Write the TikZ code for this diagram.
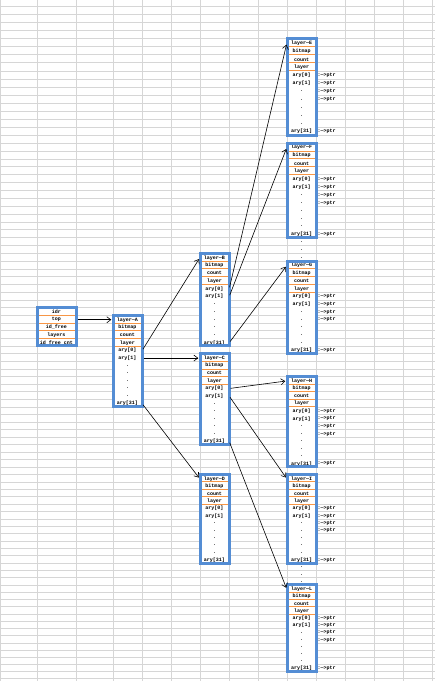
\documentclass[tikz,border=0pt]{standalone}
\usepackage{fontspec}
\usepackage{xcolor}
\usetikzlibrary{arrows.meta}
\newfontfamily\zellfont{Liberation Mono}
\definecolor{gitterGrau}{RGB}{214,214,214}
\definecolor{rahmenBlau}{RGB}{84,141,212}
\definecolor{trennOrange}{RGB}{247,150,70}

% y-Wert der Zeilengrenze k (Pixel von oben, Zeilen werden nach unten etwas flacher)
\newcommand{\zeileY}[1]{(6+8.158*(#1)-0.005846*(#1)*(#1))}

\tikzset{
  zelle/.style={inner sep=0pt, minimum width=29pt, minimum height=7pt, yshift=-0.6pt,
    font=\zellfont\bfseries\fontsize{5}{6}\selectfont},
  zeiger/.style={inner sep=0pt, anchor=west, yshift=-0.6pt,
    font=\zellfont\bfseries\fontsize{5}{6}\selectfont},
  pfeil/.style={black, line width=0.6pt, -{Straight Barb[length=4pt,width=6pt]},
    shorten <=1.5pt, shorten >=1.5pt},
}

% Kasten mit 12 Zeilen: #1 Name, #2 linke Kante, #3 erste Zeile, #4 Buchstabe
\newcommand{\layerKasten}[4]{%
  \fill[white] (#2,{\zeileY{#3}}) rectangle ({#2+29},{\zeileY{#3+12}});
  \foreach \j in {1,...,4}
    \draw[trennOrange, line width=0.8pt] (#2,{\zeileY{#3+\j}}) -- ({#2+29},{\zeileY{#3+\j}});
  \foreach \i/\txt in {0/layer—#4,1/bitmap,2/count,3/layer,4/ary[0],5/ary[1],
                       6/.,7/.,8/.,9/.,10/.,11/ary[31]} {
    \pgfmathsetmacro{\cy}{0.5*(\zeileY{#3+\i}+\zeileY{#3+\i+1})}
    \node[zelle] (#1-\i) at ({#2+14.5},\cy) {\txt};
  }
  \draw[rahmenBlau, line width=3pt] (#2,{\zeileY{#3}}) rectangle ({#2+29},{\zeileY{#3+12}});
}

% Zeiger-Spalte rechts neben einem Kasten: #1 Name, #2 linke Kante, #3 erste Zeile
\newcommand{\zeigerSpalte}[3]{%
  \foreach \i in {4,5,6,7,11} {
    \pgfmathsetmacro{\cy}{0.5*(\zeileY{#3+\i}+\zeileY{#3+\i+1})}
    \node[zeiger] (#1-p\i) at ({#2+1.5},\cy) {:—>ptr};
  }
}

\begin{document}
\begin{tikzpicture}[x=1pt, y=-1pt]
    \useasboundingbox (0,0) rectangle (435,681);

    % ==========================================
    % 1. Tabellen-Gitter (hellgrau)
    % ==========================================
    \foreach \k in {0,...,88}
        \draw[gitterGrau, line width=0.7pt] (0,{\zeileY{\k}}) -- (435,{\zeileY{\k}});
    \foreach \x in {0.7,37,76,113,142,171,200,229,258,287,316,345,374,403,432}
        \draw[gitterGrau, line width=0.7pt] (\x,0) -- (\x,681);

    % ==========================================
    % 2. Wurzel-Kasten (idr ...)
    % ==========================================
    \fill[white] (37,{\zeileY{38}}) rectangle (76,{\zeileY{43}});
    \foreach \j in {1,...,4}
        \draw[trennOrange, line width=0.8pt] (37,{\zeileY{38+\j}}) -- (76,{\zeileY{38+\j}});
    \foreach \i/\txt in {0/idr,1/top,2/id\_free,3/layers,4/id\_free\_cnt} {
        \pgfmathsetmacro{\cy}{0.5*(\zeileY{38+\i}+\zeileY{39+\i})}
        \node[zelle, minimum width=39pt] (wurzel-\i) at (56.5,\cy) {\txt};
    }
    \draw[rahmenBlau, line width=3pt] (37,{\zeileY{38}}) rectangle (76,{\zeileY{43}});

    % ==========================================
    % 3. Layer-Kaesten
    % ==========================================
    \layerKasten{A}{113}{39}{A}

    \layerKasten{B}{200}{31}{B}
    \layerKasten{C}{200}{44}{C}
    \layerKasten{D}{200}{60}{D}

    \layerKasten{E}{287}{4}{E}
    \layerKasten{F}{287}{17}{F}
    \layerKasten{G}{287}{32}{G}
    \layerKasten{H}{287}{47}{H}
    \layerKasten{I}{287}{60}{I}
    \layerKasten{L}{287}{75}{L}

    % Zeiger-Texte rechts der letzten Ebene
    \foreach \kname/\kzeile in {E/4,F/17,G/32,H/47,I/60,L/75} {
        \zeigerSpalte{\kname}{316}{\kzeile}
    }

    % Punkte zwischen den Kaesten
    \foreach \k in {29,30,31,72,73,74} {
        \pgfmathsetmacro{\cy}{0.5*(\zeileY{\k}+\zeileY{\k+1})}
        \node[zelle] (punkt-\k) at (301.5,\cy) {.};
    }

    % ==========================================
    % 4. Pfeile
    % ==========================================
    \draw[pfeil] (wurzel-1.east) -- (A-0.west);

    \draw[pfeil] (A-4.east) -- (B-0.west);
    \draw[pfeil] (A-5.east) -- (C-0.west);
    \draw[pfeil] (A-11.east) -- (D-0.west);

    \draw[pfeil] (B-4.east) -- (E-0.west);
    \draw[pfeil] (B-5.east) -- (F-0.west);
    \draw[pfeil] (B-11.east) -- (G-0.west);

    \draw[pfeil] (C-4.east) -- (H-0.west);
    \draw[pfeil] (C-5.east) -- (I-0.west);
    \draw[pfeil] (C-11.east) -- (L-0.west);

\end{tikzpicture}
\end{document}
